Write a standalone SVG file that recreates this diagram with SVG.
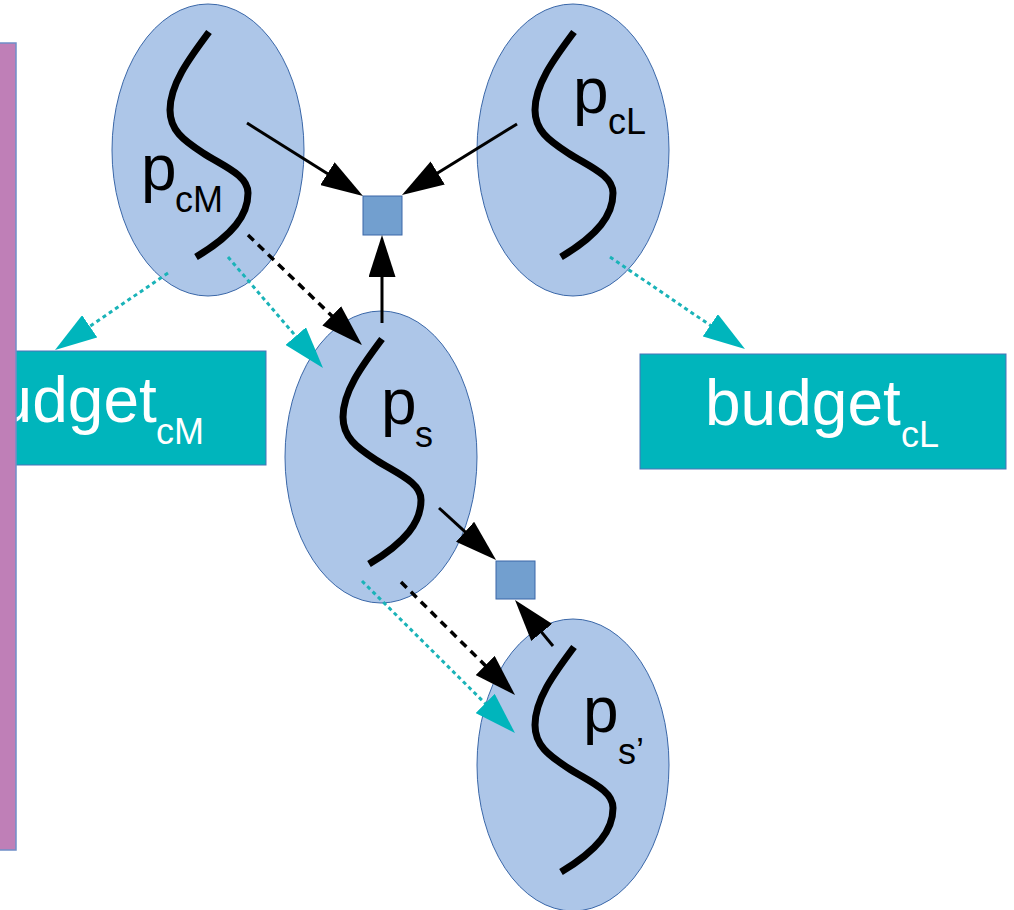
<svg xmlns="http://www.w3.org/2000/svg" width="1014" height="910" viewBox="0 0 1014 910">
  <style>
    .ell { fill: #adc6e8; stroke: #3a67a8; stroke-width: 1; }
    .sq { fill: #729fcf; stroke: #3a67a8; stroke-width: 1; }
    .budget { fill: #00b5bc; stroke: #4a72b8; stroke-width: 1; }
    .squig { fill: none; stroke: #000; stroke-width: 7; stroke-linecap: butt; }
    .lbl { font-family: "Liberation Sans", Arial, sans-serif; font-size: 64px; fill: #000; }
    .blbl { font-family: "Liberation Sans", Arial, sans-serif; font-size: 64px; fill: #fff; }
    .sub { font-size: 36px; }
    .solid { fill: none; stroke: #000; stroke-width: 3; }
    .dash { fill: none; stroke: #000; stroke-width: 3.5; stroke-dasharray: 8 6; }
    .dot { fill: none; stroke: #1ab3b8; stroke-width: 3; stroke-dasharray: 4 3.5; }
  </style>
  <defs>
    <marker id="ahB" markerUnits="userSpaceOnUse" markerWidth="42" markerHeight="27" refX="12" refY="13.5" orient="auto">
      <path d="M0,0 L42,13.5 L0,27 z" fill="#000"/>
    </marker>
    <marker id="ahT" markerUnits="userSpaceOnUse" markerWidth="42" markerHeight="27" refX="12" refY="13.5" orient="auto">
      <path d="M0,0 L42,13.5 L0,27 z" fill="#00b5bc"/>
    </marker>
    <path id="curve" d="M1,-118 C-20,-90 -38,-65 -38,-40 C-38,-20 -25,-10 -5,3 C15,16 40,25 40,43 C40,65 25,85 -12,107"/>
  </defs>

  <g id="budget-cM">
    <rect class="budget" x="-100" y="351" width="366" height="114"/>
    <text class="blbl" x="-39" y="422">budget<tspan class="sub" x="156" y="444">cM</tspan></text>
  </g>
  <g id="budget-cL">
    <rect class="budget" x="640" y="354" width="366" height="115"/>
    <text class="blbl" x="705" y="425">budget<tspan class="sub" x="901" y="447">cL</tspan></text>
  </g>

  <g id="side-bar">
    <rect x="-20" y="43" width="36" height="807" fill="#bf7fb7" stroke="#6f8fc8" stroke-width="1.5"/>
  </g>

  <g id="p-cM">
    <ellipse class="ell" cx="208" cy="150" rx="96" ry="146"/>
    <use href="#curve" class="squig" transform="translate(208,150)"/>
    <text class="lbl" x="141" y="190">p<tspan class="sub" x="175" y="212">cM</tspan></text>
  </g>
  <g id="p-cL">
    <ellipse class="ell" cx="573" cy="150" rx="96" ry="146"/>
    <use href="#curve" class="squig" transform="translate(573,150)"/>
    <text class="lbl" x="573" y="113">p<tspan class="sub" x="608" y="134">cL</tspan></text>
  </g>
  <g id="p-s">
    <ellipse class="ell" cx="381" cy="457" rx="96" ry="146"/>
    <use href="#curve" class="squig" transform="translate(381,457)"/>
    <text class="lbl" x="381" y="424">p<tspan class="sub" x="415" y="447">s</tspan></text>
  </g>
  <g id="p-s2">
    <ellipse class="ell" cx="573" cy="765" rx="96" ry="146"/>
    <use href="#curve" class="squig" transform="translate(573,765)"/>
    <text class="lbl" x="583" y="732">p<tspan class="sub" x="618" y="764">s’</tspan></text>
  </g>

  <g id="factor-1">
    <rect class="sq" x="363" y="196" width="39" height="39"/>
  </g>
  <g id="factor-2">
    <rect class="sq" x="496" y="561" width="39" height="38"/>
  </g>

  <g id="connectors">
    <path class="solid" d="M247,123 L337.6,180" marker-end="url(#ahB)"/>
    <path class="solid" d="M517,124 L427.5,179.2" marker-end="url(#ahB)"/>
    <path class="solid" d="M382,323 L382,265" marker-end="url(#ahB)"/>
    <path class="solid" d="M439,508 L473.9,539.8" marker-end="url(#ahB)"/>
    <path class="solid" d="M553,646 L534.1,623.1" marker-end="url(#ahB)"/>
    <path class="dash" d="M248,235 L340.4,324.2" marker-end="url(#ahB)"/>
    <path class="dash" d="M401,582 L493.7,673.9" marker-end="url(#ahB)"/>
    <path class="dot" d="M168,273 L79.8,333.1" marker-end="url(#ahT)"/>
    <path class="dot" d="M228,257 L303.5,345.2" marker-end="url(#ahT)"/>
    <path class="dot" d="M610,257 L720.2,332.1" marker-end="url(#ahT)"/>
    <path class="dot" d="M362,581 L493.7,711.9" marker-end="url(#ahT)"/>
  </g>
</svg>
